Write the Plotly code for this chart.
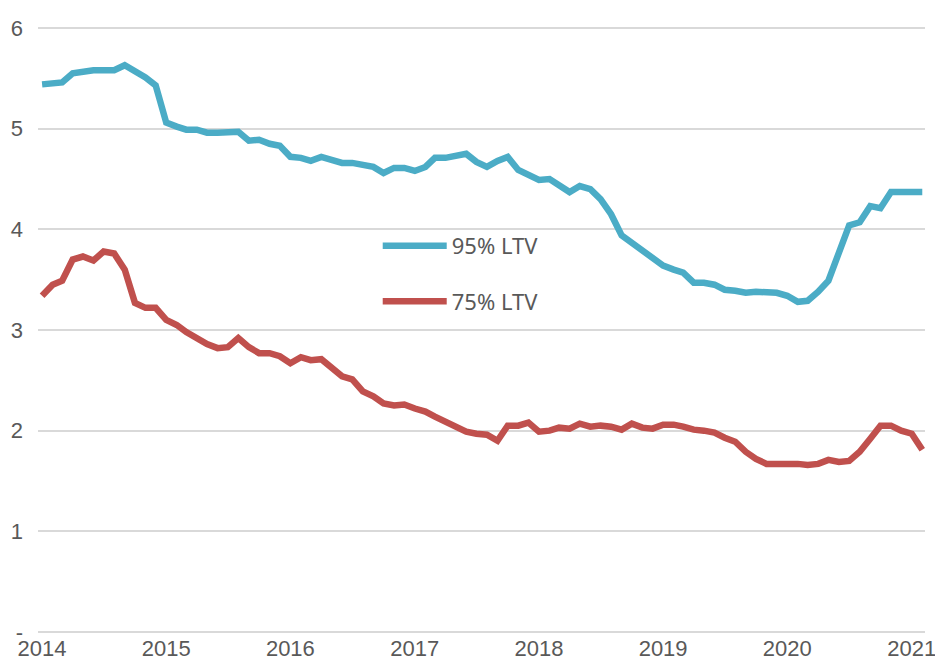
import pandas as pd
import plotly.graph_objects as go

dates = pd.date_range("2014-01-01", periods=86, freq="MS")

ltv95 = [5.44, 5.45, 5.46, 5.55, 5.57, 5.58, 5.58, 5.58, 5.63, 5.57, 5.51, 5.43,
         5.06, 5.02, 4.99, 4.99, 4.96, 4.96, 4.97, 4.97, 4.88, 4.89, 4.85, 4.83,
         4.72, 4.71, 4.68, 4.72, 4.69, 4.66, 4.66, 4.64, 4.62, 4.56, 4.61, 4.61,
         4.58, 4.62, 4.71, 4.71, 4.73, 4.75, 4.67, 4.62, 4.68, 4.72, 4.59, 4.54,
         4.49, 4.50, 4.43, 4.37, 4.43, 4.40, 4.30, 4.15, 3.94, 3.87, 3.80, 3.72,
         3.64, 3.60, 3.57, 3.47, 3.47, 3.45, 3.40, 3.39, 3.37, 3.38, 3.37, 3.37,
         3.34, 3.28, 3.29, 3.38, 3.49, 3.77, 4.04, 4.07, 4.23, 4.21, 4.37, 4.37,
         4.37, 4.37]

ltv75 = [3.34, 3.45, 3.49, 3.70, 3.73, 3.69, 3.78, 3.76, 3.60, 3.27, 3.22, 3.22,
         3.10, 3.05, 2.98, 2.92, 2.86, 2.82, 2.83, 2.92, 2.83, 2.77, 2.77, 2.74,
         2.67, 2.73, 2.70, 2.71, 2.63, 2.54, 2.51, 2.39, 2.34, 2.27, 2.25, 2.26,
         2.22, 2.19, 2.14, 2.09, 2.04, 1.99, 1.97, 1.96, 1.90, 2.05, 2.05, 2.08,
         1.99, 2.00, 2.03, 2.02, 2.07, 2.04, 2.05, 2.04, 2.01, 2.07, 2.03, 2.02,
         2.06, 2.06, 2.04, 2.01, 2.00, 1.98, 1.93, 1.89, 1.79, 1.72, 1.67, 1.67,
         1.68, 1.67, 1.66, 1.67, 1.71, 1.69, 1.70, 1.79, 1.92, 2.05, 2.05, 2.00,
         1.97, 1.81]

y_tickvals = [0, 1, 2, 3, 4, 5, 6]
y_ticktext = ["-", "1", "2", "3", "4", "5", "6"]
x_tickvals = [f"{y}-01-01" for y in range(2014, 2022)]
x_ticktext = [str(y) for y in range(2014, 2022)]

BLUE = "#4BACC6"
RED = "#C0504D"
TICKFONT = dict(family="Liberation Sans Narrow, Liberation Sans, Arial Narrow, sans-serif",
                size=22, color="#595959")

fig = go.Figure()
fig.add_trace(go.Scatter(x=dates, y=ltv95, mode="lines", name="95% LTV",
                         legendgroup="a",
                         line=dict(color=BLUE, width=6.5)))
fig.add_trace(go.Scatter(x=dates, y=ltv75, mode="lines", name="75% LTV",
                         legendgroup="b",
                         line=dict(color=RED, width=6.5)))

fig.update_layout(
    width=935, height=659,
    margin=dict(l=38, r=10, t=27, b=27, autoexpand=False),
    paper_bgcolor="white", plot_bgcolor="white",
    showlegend=True,
    legend=dict(x=0.383, y=0.673, xanchor="left", yanchor="top",
                bgcolor="rgba(0,0,0,0)", itemwidth=64,
                tracegroupgap=24, traceorder="grouped",
                font=dict(family="Noto Sans, Open Sans, sans-serif", size=22, color="#595959")),
    xaxis=dict(type="date", range=["2013-12-20", "2021-02-09"],
               tickvals=x_tickvals, ticktext=x_ticktext, automargin=False,
               showgrid=False, zeroline=False, showline=False,
               ticklabeloverflow="allow",
               ticks="", tickfont=TICKFONT, ticklabelstandoff=1),
    yaxis=dict(range=[0, 6.01], tickvals=y_tickvals, ticktext=y_ticktext,
               automargin=False,
               showgrid=True, gridcolor="#D9D9D9", gridwidth=2,
               zeroline=True, zerolinecolor="#D9D9D9", zerolinewidth=2,
               showline=False, ticks="", tickfont=TICKFONT, ticklabelstandoff=14),
)

fig.write_html("out.html",
               config={"displayModeBar": False},
               post_script="document.body.style.margin='0';document.body.style.overflow='hidden';")
